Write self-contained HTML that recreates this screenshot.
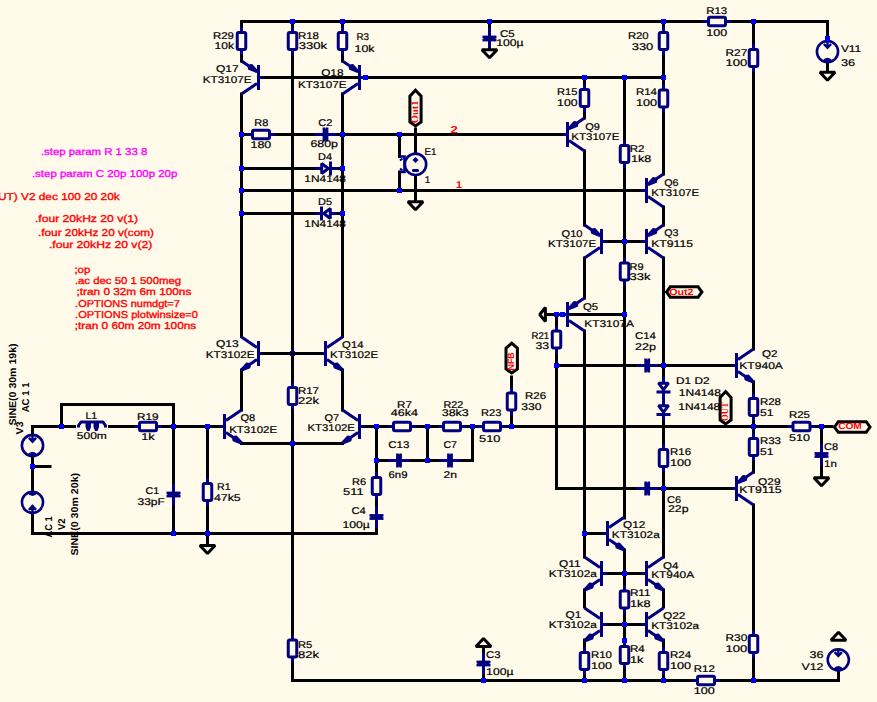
<!DOCTYPE html>
<html><head><meta charset="utf-8"><style>
html,body{margin:0;padding:0;background:#FFFAEA;}
svg{display:block;}
.w{fill:none;stroke:#000000;stroke-width:3;stroke-linecap:square;stroke-linejoin:miter;}
.n{fill:none;stroke:#000080;stroke-width:3;}
.nb{fill:#FFFAEA;stroke:#000080;stroke-width:3;}
.nb2{fill:none;stroke:#000080;stroke-width:3;}
.nd{fill:#FFFAEA;stroke:#000080;stroke-width:3;stroke-linejoin:bevel;}
.g{fill:#FFFAEA;stroke:#000000;stroke-width:3;stroke-linejoin:bevel;}
.c{fill:none;stroke:#000080;stroke-width:2.6;}
.hx{fill:#FFFAEA;stroke:#000000;stroke-width:3;stroke-linejoin:miter;}
text{font-family:"Liberation Sans",sans-serif;text-rendering:geometricPrecision;}
.t{font-size:9.8px;fill:#000;stroke:#000;stroke-width:0.2px;}
.dir{font-size:10px;fill:#FF0000;stroke:#FF0000;stroke-width:0.35px;}
.mag{font-size:10px;fill:#FF00FF;stroke:#FF00FF;stroke-width:0.35px;}
.nl{font-size:9px;font-weight:bold;fill:#FF0000;}
.nlv{font-family:"Liberation Serif",serif;font-size:10px;font-weight:bold;fill:#FF0000;}
.nl2{font-size:10px;font-weight:bold;fill:#FF0000;}
.tb{font-size:10px;font-weight:bold;fill:#000;}
</style></head><body>
<svg width="877" height="702" viewBox="0 0 877 702">
<rect width="877" height="702" fill="#FFFAEA"/>
<path d="M241.5,61 L241.5,21.5 L827.5,21.5 L827.5,40" class="w"/>
<path d="M292.5,21.5 L292.5,680.5 L838.5,680.5 L838.5,671" class="w"/>
<path d="M342.5,21.5 L342.5,61" class="w"/>
<path d="M241.5,94 L241.5,336.5" class="w"/>
<path d="M342.5,94 L342.5,336.5" class="w"/>
<path d="M260,77.5 L663.5,77.5" class="w"/>
<path d="M241.5,134.5 L567.5,134.5" class="w"/>
<path d="M241.5,168.5 L342.5,168.5" class="w"/>
<path d="M241.5,190.5 L646.5,190.5" class="w"/>
<path d="M241.5,213.5 L342.5,213.5" class="w"/>
<path d="M415.5,129 L415.5,153" class="w"/>
<path d="M415.5,176 L415.5,200.5" class="w"/>
<path d="M399.5,134.5 L399.5,156.5" class="w"/>
<path d="M399.5,172 L399.5,190.5" class="w"/>
<path d="M489.5,21.5 L489.5,49" class="w"/>
<path d="M584.5,77.5 L584.5,118" class="w"/>
<path d="M584.5,151 L584.5,225" class="w"/>
<path d="M624.5,77.5 L624.5,518" class="w"/>
<path d="M663.5,21.5 L663.5,174" class="w"/>
<path d="M663.5,207 L663.5,225" class="w"/>
<path d="M601.5,241.5 L646.5,241.5" class="w"/>
<path d="M663.5,258 L663.5,557" class="w"/>
<path d="M584.5,258 L584.5,298" class="w"/>
<path d="M546,314.5 L624.5,314.5" class="w"/>
<path d="M556.5,314.5 L556.5,488.5 L736.5,488.5" class="w"/>
<path d="M584.5,331 L584.5,557" class="w"/>
<path d="M556.5,365.5 L736.5,365.5" class="w"/>
<path d="M753.5,21.5 L753.5,349" class="w"/>
<path d="M753.5,382 L753.5,472" class="w"/>
<path d="M753.5,505 L753.5,680.5" class="w"/>
<path d="M32.5,434 L32.5,426.5 L224.5,426.5" class="w"/>
<path d="M359.5,426.5 L832,426.5" class="w"/>
<path d="M61.5,426.5 L61.5,404.5 L173.5,404.5 L173.5,533.5" class="w"/>
<path d="M32.5,457 L32.5,491" class="w"/>
<path d="M32.5,466.5 L50,466.5" class="w"/>
<path d="M32.5,514 L32.5,533.5 L376.5,533.5 L376.5,426.5" class="w"/>
<path d="M207.5,426.5 L207.5,545" class="w"/>
<path d="M241.5,370 L241.5,410" class="w"/>
<path d="M342.5,370 L342.5,410" class="w"/>
<path d="M241.5,443.5 L342.5,443.5" class="w"/>
<path d="M376.5,460.5 L472.5,460.5 L472.5,426.5" class="w"/>
<path d="M427.5,426.5 L427.5,460.5" class="w"/>
<path d="M511.5,426.5 L511.5,377" class="w"/>
<path d="M483.5,680.5 L483.5,648" class="w"/>
<path d="M584.5,533.5 L607.5,533.5" class="w"/>
<path d="M624.5,550 L624.5,680.5" class="w"/>
<path d="M601.5,573.5 L646.5,573.5" class="w"/>
<path d="M584.5,590 L584.5,607" class="w"/>
<path d="M663.5,590 L663.5,607" class="w"/>
<path d="M601.5,624.5 L646.5,624.5" class="w"/>
<path d="M584.5,640 L584.5,680.5" class="w"/>
<path d="M663.5,640 L663.5,680.5" class="w"/>
<path d="M821.5,426.5 L821.5,477" class="w"/>
<path d="M827.5,63 L827.5,72" class="w"/>
<path d="M241.5,27 V31 M241.5,51 V55" class="n"/>
<rect x="237.25" y="32.5" width="8.5" height="17" rx="1.5" class="nb"/>
<path d="M292.5,27 V31 M292.5,51 V55" class="n"/>
<rect x="288.25" y="32.5" width="8.5" height="17" rx="1.5" class="nb"/>
<path d="M342.5,27 V31 M342.5,51 V55" class="n"/>
<rect x="338.25" y="32.5" width="8.5" height="17" rx="1.5" class="nb"/>
<path d="M663.5,27 V31 M663.5,51 V55" class="n"/>
<rect x="659.25" y="32.5" width="8.5" height="17" rx="1.5" class="nb"/>
<path d="M663.5,84.5 V88.5 M663.5,108.5 V112.5" class="n"/>
<rect x="659.25" y="90.0" width="8.5" height="17" rx="1.5" class="nb"/>
<path d="M584.5,84 V88 M584.5,108 V112" class="n"/>
<rect x="580.25" y="89.5" width="8.5" height="17" rx="1.5" class="nb"/>
<path d="M753.5,44 V48 M753.5,68 V72" class="n"/>
<rect x="749.25" y="49.5" width="8.5" height="17" rx="1.5" class="nb"/>
<path d="M624.5,140 V144 M624.5,164 V168" class="n"/>
<rect x="620.25" y="145.5" width="8.5" height="17" rx="1.5" class="nb"/>
<path d="M624.5,257.5 V261.5 M624.5,281.5 V285.5" class="n"/>
<rect x="620.25" y="263.0" width="8.5" height="17" rx="1.5" class="nb"/>
<path d="M556.5,325.5 V329.5 M556.5,349.5 V353.5" class="n"/>
<rect x="552.25" y="331.0" width="8.5" height="17" rx="1.5" class="nb"/>
<path d="M292.5,382 V386 M292.5,406 V410" class="n"/>
<rect x="288.25" y="387.5" width="8.5" height="17" rx="1.5" class="nb"/>
<path d="M511.5,387.5 V391.5 M511.5,411.5 V415.5" class="n"/>
<rect x="507.25" y="393.0" width="8.5" height="17" rx="1.5" class="nb"/>
<path d="M753.5,393 V397 M753.5,417 V421" class="n"/>
<rect x="749.25" y="398.5" width="8.5" height="17" rx="1.5" class="nb"/>
<path d="M753.5,433 V437 M753.5,457 V461" class="n"/>
<rect x="749.25" y="438.5" width="8.5" height="17" rx="1.5" class="nb"/>
<path d="M663.5,444 V448 M663.5,468 V472" class="n"/>
<rect x="659.25" y="449.5" width="8.5" height="17" rx="1.5" class="nb"/>
<path d="M207.5,478 V482 M207.5,502 V506" class="n"/>
<rect x="203.25" y="483.5" width="8.5" height="17" rx="1.5" class="nb"/>
<path d="M376.5,472 V476 M376.5,496 V500" class="n"/>
<rect x="372.25" y="477.5" width="8.5" height="17" rx="1.5" class="nb"/>
<path d="M624.5,585.5 V589.5 M624.5,609.5 V613.5" class="n"/>
<rect x="620.25" y="591.0" width="8.5" height="17" rx="1.5" class="nb"/>
<path d="M624.5,641 V645 M624.5,665 V669" class="n"/>
<rect x="620.25" y="646.5" width="8.5" height="17" rx="1.5" class="nb"/>
<path d="M584.5,647 V651 M584.5,671 V675" class="n"/>
<rect x="580.25" y="652.5" width="8.5" height="17" rx="1.5" class="nb"/>
<path d="M663.5,647 V651 M663.5,671 V675" class="n"/>
<rect x="659.25" y="652.5" width="8.5" height="17" rx="1.5" class="nb"/>
<path d="M753.5,630 V634 M753.5,654 V658" class="n"/>
<rect x="749.25" y="635.5" width="8.5" height="17" rx="1.5" class="nb"/>
<path d="M292.5,634.5 V638.5 M292.5,658.5 V662.5" class="n"/>
<rect x="288.25" y="640.0" width="8.5" height="17" rx="1.5" class="nb"/>
<path d="M703,21.5 H707 M727,21.5 H731" class="n"/>
<rect x="708.5" y="17.25" width="17" height="8.5" rx="1.5" class="nb"/>
<path d="M247,134.5 H251 M271,134.5 H275" class="n"/>
<rect x="252.5" y="130.25" width="17" height="8.5" rx="1.5" class="nb"/>
<path d="M134,426.5 H138 M158,426.5 H162" class="n"/>
<rect x="139.5" y="422.25" width="17" height="8.5" rx="1.5" class="nb"/>
<path d="M388,426.5 H392 M412,426.5 H416" class="n"/>
<rect x="393.5" y="422.25" width="17" height="8.5" rx="1.5" class="nb"/>
<path d="M438,426.5 H442 M462,426.5 H466" class="n"/>
<rect x="443.5" y="422.25" width="17" height="8.5" rx="1.5" class="nb"/>
<path d="M478,426.5 H482 M502,426.5 H506" class="n"/>
<rect x="483.5" y="422.25" width="17" height="8.5" rx="1.5" class="nb"/>
<path d="M787.5,426.5 H791.5 M811.5,426.5 H815.5" class="n"/>
<rect x="793.0" y="422.25" width="17" height="8.5" rx="1.5" class="nb"/>
<path d="M692,680.5 H696 M716,680.5 H720" class="n"/>
<rect x="697.5" y="676.25" width="17" height="8.5" rx="1.5" class="nb"/>
<path d="M489.5,27.5 V49.5" class="n"/>
<rect x="482.5" y="35.6" width="14" height="2.6" fill="#000080"/>
<rect x="482.5" y="38.8" width="14" height="2.6" fill="#000080"/>
<rect x="483.5" y="37.5" width="12" height="2" fill="#000080"/>
<path d="M173.5,483.5 V505.5" class="n"/>
<rect x="166.5" y="491.6" width="14" height="2.6" fill="#000080"/>
<rect x="166.5" y="494.8" width="14" height="2.6" fill="#000080"/>
<rect x="167.5" y="493.5" width="12" height="2" fill="#000080"/>
<path d="M376.5,506 V528" class="n"/>
<rect x="369.5" y="514.1" width="14" height="2.6" fill="#000080"/>
<rect x="369.5" y="517.3" width="14" height="2.6" fill="#000080"/>
<rect x="370.5" y="516" width="12" height="2" fill="#000080"/>
<path d="M483.5,652.5 V674.5" class="n"/>
<rect x="476.5" y="660.6" width="14" height="2.6" fill="#000080"/>
<rect x="476.5" y="663.8" width="14" height="2.6" fill="#000080"/>
<rect x="477.5" y="662.5" width="12" height="2" fill="#000080"/>
<path d="M821.5,444 V466" class="n"/>
<rect x="814.5" y="452.1" width="14" height="2.6" fill="#000080"/>
<rect x="814.5" y="455.3" width="14" height="2.6" fill="#000080"/>
<rect x="815.5" y="454" width="12" height="2" fill="#000080"/>
<path d="M314.5,134.5 H336.5" class="n"/>
<rect x="322.6" y="127.5" width="2.6" height="14" fill="#000080"/>
<rect x="325.8" y="127.5" width="2.6" height="14" fill="#000080"/>
<rect x="324.5" y="128.5" width="2" height="12" fill="#000080"/>
<path d="M388,460.5 H410" class="n"/>
<rect x="396.1" y="453.5" width="2.6" height="14" fill="#000080"/>
<rect x="399.3" y="453.5" width="2.6" height="14" fill="#000080"/>
<rect x="398" y="454.5" width="2" height="12" fill="#000080"/>
<path d="M439,460.5 H461" class="n"/>
<rect x="447.1" y="453.5" width="2.6" height="14" fill="#000080"/>
<rect x="450.3" y="453.5" width="2.6" height="14" fill="#000080"/>
<rect x="449" y="454.5" width="2" height="12" fill="#000080"/>
<path d="M636.2,365.5 H658.2" class="n"/>
<rect x="644.3000000000001" y="358.5" width="2.6" height="14" fill="#000080"/>
<rect x="647.5" y="358.5" width="2.6" height="14" fill="#000080"/>
<rect x="646.2" y="359.5" width="2" height="12" fill="#000080"/>
<path d="M636.2,488.5 H658.2" class="n"/>
<rect x="644.3000000000001" y="481.5" width="2.6" height="14" fill="#000080"/>
<rect x="647.5" y="481.5" width="2.6" height="14" fill="#000080"/>
<rect x="646.2" y="482.5" width="2" height="12" fill="#000080"/>
<path d="M315,168.5 H337" class="n"/>
<path d="M321.7,163.5 V173.5 L328.2,168.5 Z" class="nd"/>
<path d="M330.5,161.5 V175.5" class="nb2"/>
<path d="M315,213.5 H337" class="n"/>
<path d="M330.3,208.5 V218.5 L323.8,213.5 Z" class="nd"/>
<path d="M321.5,206.5 V220.5" class="nb2"/>
<path d="M663.5,377 V420.5" class="n"/>
<path d="M658.5,383.2 H668.5 L663.5,389.7 Z" class="nd"/>
<path d="M656.5,392.0 H670.5" class="nb2"/>
<path d="M658.5,405.7 H668.5 L663.5,412.2 Z" class="nd"/>
<path d="M656.5,414.5 H670.5" class="nb2"/>
<path d="M481.9,49.7 H497.1 L489.5,57.7 Z" class="g"/>
<path d="M407.9,201.8 H423.1 L415.5,209.8 Z" class="g"/>
<path d="M199.9,545.5 H215.1 L207.5,553.5 Z" class="g"/>
<path d="M813.9,477.8 H829.1 L821.5,485.8 Z" class="g"/>
<path d="M819.9,72.3 H835.1 L827.5,80.3 Z" class="g"/>
<path d="M475.9,646.5 H491.1 L483.5,638.5 Z" class="g"/>
<path d="M830.9,640.2 H846.1 L838.5,632.2 Z" class="g"/>
<path d="M545.4,307.5 V321.5 L539.7,314.5 Z" class="g"/>
<path d="M258.5,65.0 V90.0" class="nb2"/>
<path d="M258.5,77.5 H263.5" class="n"/>
<path d="M241.5,61.0 L257.0,71.5 M257.0,83.5 L241.5,94.0" class="n"/>
<path d="M257.00,71.50 L248.84,68.39 L251.08,65.08 Z" fill="#000080" stroke="#000080" stroke-width="3" stroke-linejoin="bevel"/>
<path d="M359.5,65.0 V90.0" class="nb2"/>
<path d="M359.5,77.5 H364.5" class="n"/>
<path d="M342.5,61.0 L358.0,71.5 M358.0,83.5 L342.5,94.0" class="n"/>
<path d="M358.00,71.50 L349.84,68.39 L352.08,65.08 Z" fill="#000080" stroke="#000080" stroke-width="3" stroke-linejoin="bevel"/>
<path d="M567.5,122.0 V147.0" class="nb2"/>
<path d="M567.5,134.5 H562.5" class="n"/>
<path d="M584.5,118.0 L569.0,128.5 M569.0,140.5 L584.5,151.0" class="n"/>
<path d="M569.00,128.50 L574.92,122.08 L577.16,125.39 Z" fill="#000080" stroke="#000080" stroke-width="3" stroke-linejoin="bevel"/>
<path d="M646.5,178.0 V203.0" class="nb2"/>
<path d="M646.5,190.5 H641.5" class="n"/>
<path d="M663.5,174.0 L648.0,184.5 M648.0,196.5 L663.5,207.0" class="n"/>
<path d="M648.00,184.50 L653.92,178.08 L656.16,181.39 Z" fill="#000080" stroke="#000080" stroke-width="3" stroke-linejoin="bevel"/>
<path d="M601.5,229.0 V254.0" class="nb2"/>
<path d="M601.5,241.5 H606.5" class="n"/>
<path d="M584.5,225.0 L600.0,235.5 M600.0,247.5 L584.5,258.0" class="n"/>
<path d="M600.00,235.50 L591.84,232.39 L594.08,229.08 Z" fill="#000080" stroke="#000080" stroke-width="3" stroke-linejoin="bevel"/>
<path d="M646.5,229.0 V254.0" class="nb2"/>
<path d="M646.5,241.5 H641.5" class="n"/>
<path d="M663.5,225.0 L648.0,235.5 M648.0,247.5 L663.5,258.0" class="n"/>
<path d="M648.00,235.50 L653.92,229.08 L656.16,232.39 Z" fill="#000080" stroke="#000080" stroke-width="3" stroke-linejoin="bevel"/>
<path d="M567.5,302.0 V327.0" class="nb2"/>
<path d="M567.5,314.5 H562.5" class="n"/>
<path d="M584.5,298.0 L569.0,308.5 M569.0,320.5 L584.5,331.0" class="n"/>
<path d="M569.00,308.50 L574.92,302.08 L577.16,305.39 Z" fill="#000080" stroke="#000080" stroke-width="3" stroke-linejoin="bevel"/>
<path d="M258.5,341.0 V366.0" class="nb2"/>
<path d="M258.5,353.5 H263.5" class="n"/>
<path d="M241.5,337.0 L257.0,347.5 M257.0,359.5 L241.5,370.0" class="n"/>
<path d="M241.50,370.00 L247.42,363.58 L249.66,366.89 Z" fill="#000080" stroke="#000080" stroke-width="3" stroke-linejoin="bevel"/>
<path d="M325.5,341.0 V366.0" class="nb2"/>
<path d="M325.5,353.5 H320.5" class="n"/>
<path d="M342.5,337.0 L327.0,347.5 M327.0,359.5 L342.5,370.0" class="n"/>
<path d="M342.50,370.00 L334.34,366.89 L336.58,363.58 Z" fill="#000080" stroke="#000080" stroke-width="3" stroke-linejoin="bevel"/>
<path d="M224.5,414.0 V439.0" class="nb2"/>
<path d="M224.5,426.5 H219.5" class="n"/>
<path d="M241.5,410.0 L226.0,420.5 M226.0,432.5 L241.5,443.0" class="n"/>
<path d="M241.50,443.00 L233.34,439.89 L235.58,436.58 Z" fill="#000080" stroke="#000080" stroke-width="3" stroke-linejoin="bevel"/>
<path d="M359.5,414.0 V439.0" class="nb2"/>
<path d="M359.5,426.5 H364.5" class="n"/>
<path d="M342.5,410.0 L358.0,420.5 M358.0,432.5 L342.5,443.0" class="n"/>
<path d="M342.50,443.00 L348.42,436.58 L350.66,439.89 Z" fill="#000080" stroke="#000080" stroke-width="3" stroke-linejoin="bevel"/>
<path d="M736.5,353.0 V378.0" class="nb2"/>
<path d="M736.5,365.5 H731.5" class="n"/>
<path d="M753.5,349.0 L738.0,359.5 M738.0,371.5 L753.5,382.0" class="n"/>
<path d="M753.50,382.00 L745.34,378.89 L747.58,375.58 Z" fill="#000080" stroke="#000080" stroke-width="3" stroke-linejoin="bevel"/>
<path d="M736.5,476.0 V501.0" class="nb2"/>
<path d="M736.5,488.5 H731.5" class="n"/>
<path d="M753.5,472.0 L738.0,482.5 M738.0,494.5 L753.5,505.0" class="n"/>
<path d="M738.00,482.50 L743.92,476.08 L746.16,479.39 Z" fill="#000080" stroke="#000080" stroke-width="3" stroke-linejoin="bevel"/>
<path d="M607.5,521.0 V546.0" class="nb2"/>
<path d="M607.5,533.5 H602.5" class="n"/>
<path d="M624.5,517.0 L609.0,527.5 M609.0,539.5 L624.5,550.0" class="n"/>
<path d="M624.50,550.00 L616.34,546.89 L618.58,543.58 Z" fill="#000080" stroke="#000080" stroke-width="3" stroke-linejoin="bevel"/>
<path d="M601.5,561.0 V586.0" class="nb2"/>
<path d="M601.5,573.5 H606.5" class="n"/>
<path d="M584.5,557.0 L600.0,567.5 M600.0,579.5 L584.5,590.0" class="n"/>
<path d="M584.50,590.00 L590.42,583.58 L592.66,586.89 Z" fill="#000080" stroke="#000080" stroke-width="3" stroke-linejoin="bevel"/>
<path d="M646.5,561.0 V586.0" class="nb2"/>
<path d="M646.5,573.5 H641.5" class="n"/>
<path d="M663.5,557.0 L648.0,567.5 M648.0,579.5 L663.5,590.0" class="n"/>
<path d="M663.50,590.00 L655.34,586.89 L657.58,583.58 Z" fill="#000080" stroke="#000080" stroke-width="3" stroke-linejoin="bevel"/>
<path d="M601.5,612.0 V637.0" class="nb2"/>
<path d="M601.5,624.5 H606.5" class="n"/>
<path d="M584.5,608.0 L600.0,618.5 M600.0,630.5 L584.5,641.0" class="n"/>
<path d="M584.50,641.00 L590.42,634.58 L592.66,637.89 Z" fill="#000080" stroke="#000080" stroke-width="3" stroke-linejoin="bevel"/>
<path d="M646.5,612.0 V637.0" class="nb2"/>
<path d="M646.5,624.5 H641.5" class="n"/>
<path d="M663.5,608.0 L648.0,618.5 M648.0,630.5 L663.5,641.0" class="n"/>
<path d="M663.50,641.00 L655.34,637.89 L657.58,634.58 Z" fill="#000080" stroke="#000080" stroke-width="3" stroke-linejoin="bevel"/>
<rect x="76" y="424" width="32" height="5" fill="#FFFAEA"/>
<path d="M78.5,427.5 L78.5,425.5 L81,422 H103 L105.5,425.5 V427.5" fill="none" stroke="#000080" stroke-width="3" stroke-linejoin="round"/>
<path d="M85.5,421 H91 V427 L89.5,431 H87 L85.5,427 Z M93.5,421 H99 V427 L97.5,431 H95 L93.5,427 Z" fill="#000080"/>
<circle cx="32.5" cy="445.5" r="10.6" class="c"/>
<path d="M32.5,435.5 V441.5 M28.9,437.9 L32.5,441.7 L36.1,437.9" fill="none" stroke="#000080" stroke-width="2.4"/>
<path d="M28.0,455.0 Q32.5,450.0 37.0,455.0 Z" fill="#000080" stroke="#000080" stroke-width="1.5"/>
<circle cx="32.5" cy="502.3" r="10.6" class="c"/>
<path d="M32.5,512.3 V506.3 M28.9,509.90000000000003 L32.5,506.1 L36.1,509.90000000000003" fill="none" stroke="#000080" stroke-width="2.4"/>
<path d="M28.0,492.8 Q32.5,497.8 37.0,492.8 Z" fill="#000080" stroke="#000080" stroke-width="1.5"/>
<circle cx="827.5" cy="51.6" r="10.6" class="c"/>
<path d="M827.5,41.6 V47.6 M823.9,44.0 L827.5,47.800000000000004 L831.1,44.0" fill="none" stroke="#000080" stroke-width="2.4"/>
<path d="M823.0,61.1 Q827.5,56.1 832.0,61.1 Z" fill="#000080" stroke="#000080" stroke-width="1.5"/>
<circle cx="838.3" cy="659.8" r="10.6" class="c"/>
<path d="M838.3,649.8 V655.8 M834.6999999999999,652.1999999999999 L838.3,656.0 L841.9,652.1999999999999" fill="none" stroke="#000080" stroke-width="2.4"/>
<path d="M833.8,669.3 Q838.3,664.3 842.8,669.3 Z" fill="#000080" stroke="#000080" stroke-width="1.5"/>
<circle cx="415.5" cy="164.3" r="10.7" class="c"/>
<path d="M399.5,156.5 H404.5 V172 H399.5" fill="none" stroke="#000080" stroke-width="2.6"/>
<path d="M415.5,157 l3,3 l-3,3 l-3,-3 Z" fill="#000080"/>
<rect x="412" y="169" width="7" height="3" rx="1.2" fill="#000080"/>
<path d="M400,160.5 l2.5,-2 M400,168.5 l2.5,2" stroke="#000080" stroke-width="2"/>
<path d="M415.5,90.2 L421.1,96.2 V122 L415.5,126 L409.9,122 V96.2 Z" class="hx"/>
<path d="M511.7,343.2 L517.4,348.2 V369 L511.7,373 L506.0,369 V348.2 Z" class="hx"/>
<path d="M725.6,391.6 L731.1,397.6 V420 L725.6,424 L720.1,420 V397.6 Z" class="hx"/>
<path d="M666.5,292 L670.3,286.75 H698.1 L701.9,292 L698.1,297.25 H670.3 Z" class="hx"/>
<path d="M834.5,427 L838.3,421.7 H866.2 L870,427 L866.2,432.3 H838.3 Z" class="hx"/>
<rect x="290.0" y="19.0" width="5" height="5" fill="#0000FF"/>
<rect x="340.0" y="19.0" width="5" height="5" fill="#0000FF"/>
<rect x="487.0" y="19.0" width="5" height="5" fill="#0000FF"/>
<rect x="661.0" y="19.0" width="5" height="5" fill="#0000FF"/>
<rect x="751.0" y="19.0" width="5" height="5" fill="#0000FF"/>
<rect x="825.0" y="36.0" width="5" height="5" fill="#0000FF"/>
<rect x="363.0" y="75.0" width="5" height="5" fill="#0000FF"/>
<rect x="582.0" y="75.0" width="5" height="5" fill="#0000FF"/>
<rect x="622.0" y="75.0" width="5" height="5" fill="#0000FF"/>
<rect x="661.0" y="75.0" width="5" height="5" fill="#0000FF"/>
<rect x="239.0" y="132.0" width="5" height="5" fill="#0000FF"/>
<rect x="340.0" y="132.0" width="5" height="5" fill="#0000FF"/>
<rect x="397.0" y="132.0" width="5" height="5" fill="#0000FF"/>
<rect x="239.0" y="166.0" width="5" height="5" fill="#0000FF"/>
<rect x="340.0" y="166.0" width="5" height="5" fill="#0000FF"/>
<rect x="239.0" y="188.0" width="5" height="5" fill="#0000FF"/>
<rect x="397.0" y="188.0" width="5" height="5" fill="#0000FF"/>
<rect x="239.0" y="211.0" width="5" height="5" fill="#0000FF"/>
<rect x="340.0" y="211.0" width="5" height="5" fill="#0000FF"/>
<rect x="622.0" y="239.0" width="5" height="5" fill="#0000FF"/>
<rect x="554.0" y="312.0" width="5" height="5" fill="#0000FF"/>
<rect x="560.0" y="312.0" width="5" height="5" fill="#0000FF"/>
<rect x="622.0" y="312.0" width="5" height="5" fill="#0000FF"/>
<rect x="290.0" y="351.0" width="5" height="5" fill="#0000FF"/>
<rect x="554.0" y="363.0" width="5" height="5" fill="#0000FF"/>
<rect x="661.0" y="363.0" width="5" height="5" fill="#0000FF"/>
<rect x="59.0" y="424.0" width="5" height="5" fill="#0000FF"/>
<rect x="171.0" y="424.0" width="5" height="5" fill="#0000FF"/>
<rect x="205.0" y="424.0" width="5" height="5" fill="#0000FF"/>
<rect x="374.0" y="424.0" width="5" height="5" fill="#0000FF"/>
<rect x="425.0" y="424.0" width="5" height="5" fill="#0000FF"/>
<rect x="470.0" y="424.0" width="5" height="5" fill="#0000FF"/>
<rect x="509.0" y="424.0" width="5" height="5" fill="#0000FF"/>
<rect x="751.0" y="424.0" width="5" height="5" fill="#0000FF"/>
<rect x="819.0" y="424.0" width="5" height="5" fill="#0000FF"/>
<rect x="290.0" y="441.0" width="5" height="5" fill="#0000FF"/>
<rect x="374.0" y="458.0" width="5" height="5" fill="#0000FF"/>
<rect x="425.0" y="458.0" width="5" height="5" fill="#0000FF"/>
<rect x="30.0" y="464.0" width="5" height="5" fill="#0000FF"/>
<rect x="661.0" y="486.0" width="5" height="5" fill="#0000FF"/>
<rect x="171.0" y="531.0" width="5" height="5" fill="#0000FF"/>
<rect x="205.0" y="531.0" width="5" height="5" fill="#0000FF"/>
<rect x="582.0" y="531.0" width="5" height="5" fill="#0000FF"/>
<rect x="622.0" y="571.0" width="5" height="5" fill="#0000FF"/>
<rect x="622.0" y="622.0" width="5" height="5" fill="#0000FF"/>
<rect x="622.0" y="638.0" width="5" height="5" fill="#0000FF"/>
<rect x="481.0" y="678.0" width="5" height="5" fill="#0000FF"/>
<rect x="582.0" y="678.0" width="5" height="5" fill="#0000FF"/>
<rect x="622.0" y="678.0" width="5" height="5" fill="#0000FF"/>
<rect x="661.0" y="678.0" width="5" height="5" fill="#0000FF"/>
<rect x="751.0" y="678.0" width="5" height="5" fill="#0000FF"/>
<path d="M263.5,353.5 L320.5,353.5" class="w"/>
<text x="212.9" y="39.0" class="t" textLength="21.0" lengthAdjust="spacingAndGlyphs">R29</text>
<text x="214.5" y="49.0" class="t" textLength="19.4" lengthAdjust="spacingAndGlyphs">10k</text>
<text x="297.9" y="39.1" class="t" textLength="21.1" lengthAdjust="spacingAndGlyphs">R18</text>
<text x="298.8" y="49.1" class="t" textLength="28.3" lengthAdjust="spacingAndGlyphs">330k</text>
<text x="356.5" y="39.7" class="t" textLength="12.6" lengthAdjust="spacingAndGlyphs">R3</text>
<text x="354.5" y="51.6" class="t" textLength="20.0" lengthAdjust="spacingAndGlyphs">10k</text>
<text x="215.9" y="72.4" class="t" textLength="22.8" lengthAdjust="spacingAndGlyphs">Q17</text>
<text x="202.8" y="83.1" class="t" textLength="48.7" lengthAdjust="spacingAndGlyphs">KT3107E</text>
<text x="321.2" y="76.1" class="t" textLength="22.3" lengthAdjust="spacingAndGlyphs">Q18</text>
<text x="297.9" y="87.9" class="t" textLength="48.6" lengthAdjust="spacingAndGlyphs">KT3107E</text>
<text x="254.3" y="125.8" class="t" textLength="14.0" lengthAdjust="spacingAndGlyphs">R8</text>
<text x="250.5" y="148.1" class="t" textLength="20.8" lengthAdjust="spacingAndGlyphs">180</text>
<text x="318.2" y="126.3" class="t" textLength="14.1" lengthAdjust="spacingAndGlyphs">C2</text>
<text x="310.5" y="146.6" class="t" textLength="27.5" lengthAdjust="spacingAndGlyphs">680p</text>
<text x="318.0" y="160.0" class="t" textLength="14.0" lengthAdjust="spacingAndGlyphs">D4</text>
<text x="304.3" y="182.2" class="t" textLength="41.7" lengthAdjust="spacingAndGlyphs">1N4148</text>
<text x="318.0" y="205.0" class="t" textLength="14.0" lengthAdjust="spacingAndGlyphs">D5</text>
<text x="304.3" y="227.2" class="t" textLength="41.7" lengthAdjust="spacingAndGlyphs">1N4148</text>
<text x="499.9" y="36.7" class="t" textLength="14.8" lengthAdjust="spacingAndGlyphs">C5</text>
<text x="496.2" y="46.1" class="t" textLength="27.3" lengthAdjust="spacingAndGlyphs">100µ</text>
<text x="424.4" y="155.1" class="t" textLength="11.9" lengthAdjust="spacingAndGlyphs">E1</text>
<text x="424.7" y="183.0" class="t" textLength="5.5" lengthAdjust="spacingAndGlyphs">1</text>
<text x="450.5" y="132.5" class="nl2" textLength="7.3" lengthAdjust="spacingAndGlyphs">2</text>
<text x="456.0" y="188.4" class="nl2" textLength="6.0" lengthAdjust="spacingAndGlyphs">1</text>
<text x="557.1" y="94.9" class="t" textLength="20.4" lengthAdjust="spacingAndGlyphs">R15</text>
<text x="557.1" y="105.7" class="t" textLength="20.4" lengthAdjust="spacingAndGlyphs">100</text>
<text x="585.3" y="129.6" class="t" textLength="14.7" lengthAdjust="spacingAndGlyphs">Q9</text>
<text x="571.3" y="140.1" class="t" textLength="48.1" lengthAdjust="spacingAndGlyphs">KT3107E</text>
<text x="627.9" y="39.2" class="t" textLength="20.8" lengthAdjust="spacingAndGlyphs">R20</text>
<text x="631.7" y="49.8" class="t" textLength="21.6" lengthAdjust="spacingAndGlyphs">330</text>
<text x="706.2" y="14.1" class="t" textLength="21.0" lengthAdjust="spacingAndGlyphs">R13</text>
<text x="706.2" y="36.0" class="t" textLength="21.0" lengthAdjust="spacingAndGlyphs">100</text>
<text x="725.5" y="56.1" class="t" textLength="21.8" lengthAdjust="spacingAndGlyphs">R27</text>
<text x="725.5" y="66.1" class="t" textLength="21.8" lengthAdjust="spacingAndGlyphs">100</text>
<text x="840.9" y="51.5" class="t" textLength="20.4" lengthAdjust="spacingAndGlyphs">V11</text>
<text x="840.9" y="66.4" class="t" textLength="14.2" lengthAdjust="spacingAndGlyphs">36</text>
<text x="635.9" y="94.9" class="t" textLength="21.1" lengthAdjust="spacingAndGlyphs">R14</text>
<text x="635.9" y="105.7" class="t" textLength="21.1" lengthAdjust="spacingAndGlyphs">100</text>
<text x="629.7" y="152.1" class="t" textLength="14.8" lengthAdjust="spacingAndGlyphs">R2</text>
<text x="630.9" y="162.2" class="t" textLength="20.3" lengthAdjust="spacingAndGlyphs">1k8</text>
<text x="664.2" y="185.9" class="t" textLength="14.3" lengthAdjust="spacingAndGlyphs">Q6</text>
<text x="651.2" y="196.0" class="t" textLength="47.9" lengthAdjust="spacingAndGlyphs">KT3107E</text>
<text x="561.5" y="236.6" class="t" textLength="21.0" lengthAdjust="spacingAndGlyphs">Q10</text>
<text x="548.1" y="247.2" class="t" textLength="48.1" lengthAdjust="spacingAndGlyphs">KT3107E</text>
<text x="664.2" y="236.1" class="t" textLength="14.3" lengthAdjust="spacingAndGlyphs">Q3</text>
<text x="651.2" y="246.9" class="t" textLength="41.9" lengthAdjust="spacingAndGlyphs">KT9115</text>
<text x="629.5" y="270.0" class="t" textLength="14.0" lengthAdjust="spacingAndGlyphs">R9</text>
<text x="629.5" y="280.0" class="t" textLength="21.0" lengthAdjust="spacingAndGlyphs">33k</text>
<text x="582.9" y="309.6" class="t" textLength="15.3" lengthAdjust="spacingAndGlyphs">Q5</text>
<text x="584.2" y="327.2" class="t" textLength="49.7" lengthAdjust="spacingAndGlyphs">KT3107A</text>
<text x="531.5" y="339.2" class="t" textLength="17.6" lengthAdjust="spacingAndGlyphs">R21</text>
<text x="535.5" y="348.6" class="t" textLength="13.6" lengthAdjust="spacingAndGlyphs">33</text>
<text x="634.9" y="339.2" class="t" textLength="21.0" lengthAdjust="spacingAndGlyphs">C14</text>
<text x="634.9" y="350.4" class="t" textLength="21.0" lengthAdjust="spacingAndGlyphs">22p</text>
<text x="215.9" y="347.3" class="t" textLength="22.8" lengthAdjust="spacingAndGlyphs">Q13</text>
<text x="205.8" y="358.1" class="t" textLength="48.7" lengthAdjust="spacingAndGlyphs">KT3102E</text>
<text x="342.1" y="347.6" class="t" textLength="21.4" lengthAdjust="spacingAndGlyphs">Q14</text>
<text x="330.0" y="358.1" class="t" textLength="48.2" lengthAdjust="spacingAndGlyphs">KT3102E</text>
<text x="761.9" y="357.3" class="t" textLength="15.6" lengthAdjust="spacingAndGlyphs">Q2</text>
<text x="739.3" y="368.6" class="t" textLength="43.6" lengthAdjust="spacingAndGlyphs">KT940A</text>
<text x="676.0" y="383.8" class="t" textLength="33.5" lengthAdjust="spacingAndGlyphs">D1 D2</text>
<text x="678.8" y="395.5" class="t" textLength="42.1" lengthAdjust="spacingAndGlyphs">1N4148</text>
<text x="678.3" y="409.8" class="t" textLength="42.0" lengthAdjust="spacingAndGlyphs">1N4148</text>
<text x="297.9" y="393.6" class="t" textLength="21.1" lengthAdjust="spacingAndGlyphs">R17</text>
<text x="297.9" y="403.6" class="t" textLength="21.1" lengthAdjust="spacingAndGlyphs">22k</text>
<text x="525.0" y="398.6" class="t" textLength="21.1" lengthAdjust="spacingAndGlyphs">R26</text>
<text x="521.2" y="410.0" class="t" textLength="20.3" lengthAdjust="spacingAndGlyphs">330</text>
<text x="759.9" y="405.0" class="t" textLength="21.0" lengthAdjust="spacingAndGlyphs">R28</text>
<text x="759.9" y="415.6" class="t" textLength="13.6" lengthAdjust="spacingAndGlyphs">51</text>
<text x="397.1" y="407.5" class="t" textLength="14.8" lengthAdjust="spacingAndGlyphs">R7</text>
<text x="390.8" y="416.3" class="t" textLength="27.3" lengthAdjust="spacingAndGlyphs">46k4</text>
<text x="443.5" y="407.5" class="t" textLength="19.8" lengthAdjust="spacingAndGlyphs">R22</text>
<text x="441.7" y="416.3" class="t" textLength="27.1" lengthAdjust="spacingAndGlyphs">38k3</text>
<text x="481.1" y="416.3" class="t" textLength="20.4" lengthAdjust="spacingAndGlyphs">R23</text>
<text x="479.1" y="441.8" class="t" textLength="21.4" lengthAdjust="spacingAndGlyphs">510</text>
<text x="240.5" y="421.3" class="t" textLength="14.8" lengthAdjust="spacingAndGlyphs">Q8</text>
<text x="229.2" y="432.6" class="t" textLength="47.9" lengthAdjust="spacingAndGlyphs">KT3102E</text>
<text x="324.5" y="421.3" class="t" textLength="14.6" lengthAdjust="spacingAndGlyphs">Q7</text>
<text x="307.5" y="431.3" class="t" textLength="47.4" lengthAdjust="spacingAndGlyphs">KT3102E</text>
<text x="85.4" y="418.9" class="t" textLength="11.9" lengthAdjust="spacingAndGlyphs">L1</text>
<text x="76.8" y="439.1" class="t" textLength="30.1" lengthAdjust="spacingAndGlyphs">500m</text>
<text x="137.0" y="420.0" class="t" textLength="21.5" lengthAdjust="spacingAndGlyphs">R19</text>
<text x="141.2" y="440.1" class="t" textLength="13.6" lengthAdjust="spacingAndGlyphs">1k</text>
<text x="789.0" y="417.6" class="t" textLength="21.0" lengthAdjust="spacingAndGlyphs">R25</text>
<text x="789.0" y="440.8" class="t" textLength="21.0" lengthAdjust="spacingAndGlyphs">510</text>
<text x="759.9" y="443.9" class="t" textLength="21.0" lengthAdjust="spacingAndGlyphs">R33</text>
<text x="759.9" y="455.1" class="t" textLength="13.6" lengthAdjust="spacingAndGlyphs">51</text>
<text x="388.3" y="447.6" class="t" textLength="21.1" lengthAdjust="spacingAndGlyphs">C13</text>
<text x="388.5" y="477.6" class="t" textLength="19.0" lengthAdjust="spacingAndGlyphs">6n9</text>
<text x="443.5" y="447.6" class="t" textLength="13.5" lengthAdjust="spacingAndGlyphs">C7</text>
<text x="443.5" y="477.6" class="t" textLength="13.5" lengthAdjust="spacingAndGlyphs">2n</text>
<text x="824.1" y="450.1" class="t" textLength="14.0" lengthAdjust="spacingAndGlyphs">C8</text>
<text x="824.1" y="467.2" class="t" textLength="12.8" lengthAdjust="spacingAndGlyphs">1n</text>
<text x="670.0" y="455.2" class="t" textLength="21.1" lengthAdjust="spacingAndGlyphs">R16</text>
<text x="670.0" y="465.9" class="t" textLength="21.1" lengthAdjust="spacingAndGlyphs">100</text>
<text x="352.1" y="484.6" class="t" textLength="14.1" lengthAdjust="spacingAndGlyphs">R6</text>
<text x="343.1" y="494.8" class="t" textLength="20.5" lengthAdjust="spacingAndGlyphs">511</text>
<text x="758.1" y="484.6" class="t" textLength="22.4" lengthAdjust="spacingAndGlyphs">Q29</text>
<text x="739.3" y="492.8" class="t" textLength="42.4" lengthAdjust="spacingAndGlyphs">KT9115</text>
<text x="217.1" y="489.6" class="t" textLength="13.6" lengthAdjust="spacingAndGlyphs">R1</text>
<text x="213.9" y="501.1" class="t" textLength="26.8" lengthAdjust="spacingAndGlyphs">47k5</text>
<text x="145.5" y="494.3" class="t" textLength="13.6" lengthAdjust="spacingAndGlyphs">C1</text>
<text x="137.5" y="505.3" class="t" textLength="27.3" lengthAdjust="spacingAndGlyphs">33pF</text>
<text x="667.0" y="502.8" class="t" textLength="14.0" lengthAdjust="spacingAndGlyphs">C6</text>
<text x="668.0" y="511.6" class="t" textLength="20.5" lengthAdjust="spacingAndGlyphs">22p</text>
<text x="351.4" y="514.4" class="t" textLength="14.3" lengthAdjust="spacingAndGlyphs">C4</text>
<text x="342.5" y="528.1" class="t" textLength="27.4" lengthAdjust="spacingAndGlyphs">100µ</text>
<text x="623.1" y="527.9" class="t" textLength="22.3" lengthAdjust="spacingAndGlyphs">Q12</text>
<text x="611.8" y="537.9" class="t" textLength="47.9" lengthAdjust="spacingAndGlyphs">KT3102a</text>
<text x="559.1" y="567.2" class="t" textLength="21.6" lengthAdjust="spacingAndGlyphs">Q11</text>
<text x="548.8" y="577.2" class="t" textLength="48.0" lengthAdjust="spacingAndGlyphs">KT3102a</text>
<text x="663.0" y="568.8" class="t" textLength="15.5" lengthAdjust="spacingAndGlyphs">Q4</text>
<text x="651.2" y="578.1" class="t" textLength="42.9" lengthAdjust="spacingAndGlyphs">KT940A</text>
<text x="629.9" y="596.4" class="t" textLength="20.6" lengthAdjust="spacingAndGlyphs">R11</text>
<text x="629.9" y="607.2" class="t" textLength="20.6" lengthAdjust="spacingAndGlyphs">1k8</text>
<text x="565.5" y="618.1" class="t" textLength="15.7" lengthAdjust="spacingAndGlyphs">Q1</text>
<text x="548.8" y="627.9" class="t" textLength="48.0" lengthAdjust="spacingAndGlyphs">KT3102a</text>
<text x="663.0" y="618.6" class="t" textLength="22.5" lengthAdjust="spacingAndGlyphs">Q22</text>
<text x="651.2" y="628.6" class="t" textLength="47.9" lengthAdjust="spacingAndGlyphs">KT3102a</text>
<text x="725.5" y="641.2" class="t" textLength="21.8" lengthAdjust="spacingAndGlyphs">R30</text>
<text x="725.5" y="652.0" class="t" textLength="21.8" lengthAdjust="spacingAndGlyphs">100</text>
<text x="297.9" y="647.5" class="t" textLength="14.3" lengthAdjust="spacingAndGlyphs">R5</text>
<text x="297.9" y="657.6" class="t" textLength="21.1" lengthAdjust="spacingAndGlyphs">82k</text>
<text x="629.9" y="652.0" class="t" textLength="14.8" lengthAdjust="spacingAndGlyphs">R4</text>
<text x="629.9" y="663.0" class="t" textLength="13.6" lengthAdjust="spacingAndGlyphs">1k</text>
<text x="591.0" y="657.6" class="t" textLength="21.0" lengthAdjust="spacingAndGlyphs">R10</text>
<text x="591.0" y="668.8" class="t" textLength="21.0" lengthAdjust="spacingAndGlyphs">100</text>
<text x="670.0" y="657.6" class="t" textLength="21.1" lengthAdjust="spacingAndGlyphs">R24</text>
<text x="670.0" y="668.8" class="t" textLength="21.1" lengthAdjust="spacingAndGlyphs">100</text>
<text x="486.1" y="658.3" class="t" textLength="14.4" lengthAdjust="spacingAndGlyphs">C3</text>
<text x="486.1" y="674.6" class="t" textLength="27.4" lengthAdjust="spacingAndGlyphs">100µ</text>
<text x="809.5" y="657.6" class="t" textLength="14.0" lengthAdjust="spacingAndGlyphs">36</text>
<text x="801.5" y="669.6" class="t" textLength="22.0" lengthAdjust="spacingAndGlyphs">V12</text>
<text x="693.8" y="672.1" class="t" textLength="21.1" lengthAdjust="spacingAndGlyphs">R12</text>
<text x="693.8" y="693.9" class="t" textLength="21.1" lengthAdjust="spacingAndGlyphs">100</text>
<text x="40.9" y="155.1" class="mag" textLength="106.4" lengthAdjust="spacingAndGlyphs">.step param R 1 33 8</text>
<text x="31.9" y="177.0" class="mag" textLength="145.5" lengthAdjust="spacingAndGlyphs">.step param C 20p 100p 20p</text>
<text x="-2.0" y="199.6" class="dir" textLength="121.7" lengthAdjust="spacingAndGlyphs">UT) V2 dec 100 20 20k</text>
<text x="35.0" y="221.6" class="dir" textLength="103.0" lengthAdjust="spacingAndGlyphs">.four 20kHz 20 v(1)</text>
<text x="38.0" y="235.6" class="dir" textLength="116.0" lengthAdjust="spacingAndGlyphs">.four 20kHz 20 v(com)</text>
<text x="48.9" y="247.5" class="dir" textLength="103.4" lengthAdjust="spacingAndGlyphs">.four 20kHz 20 v(2)</text>
<text x="74.4" y="273.2" class="dir" textLength="15.9" lengthAdjust="spacingAndGlyphs">;op</text>
<text x="74.9" y="283.9" class="dir" textLength="106.2" lengthAdjust="spacingAndGlyphs">.ac dec 50 1 500meg</text>
<text x="76.5" y="294.8" class="dir" textLength="114.8" lengthAdjust="spacingAndGlyphs">;tran 0 32m 6m 100ns</text>
<text x="75.1" y="306.7" class="dir" textLength="104.8" lengthAdjust="spacingAndGlyphs">.OPTIONS numdgt=7</text>
<text x="75.1" y="317.8" class="dir" textLength="122.9" lengthAdjust="spacingAndGlyphs">.OPTIONS plotwinsize=0</text>
<text x="74.7" y="328.9" class="dir" textLength="121.5" lengthAdjust="spacingAndGlyphs">;tran 0 60m 20m 100ns</text>
<text transform="translate(16.4,425.6) rotate(-90)" x="0" y="0" class="tb" textLength="82.2" lengthAdjust="spacingAndGlyphs">SINE(0 30m 19k)</text>
<text transform="translate(29.2,412.3) rotate(-90)" x="0" y="0" class="tb" textLength="29.8" lengthAdjust="spacingAndGlyphs">AC 1 1</text>
<text transform="translate(23.1,434.4) rotate(-90)" x="0" y="0" class="tb" textLength="12.9" lengthAdjust="spacingAndGlyphs">V3</text>
<text transform="translate(52.2,537.5) rotate(-90)" x="0" y="0" class="tb" textLength="21.1" lengthAdjust="spacingAndGlyphs">AC 1</text>
<text transform="translate(65,530.1) rotate(-90)" x="0" y="0" class="tb" textLength="11.7" lengthAdjust="spacingAndGlyphs">V2</text>
<text transform="translate(77.5,555.6) rotate(-90)" x="0" y="0" class="tb" textLength="82.7" lengthAdjust="spacingAndGlyphs">SINE(0 30m 20k)</text>
<text transform="translate(418.4,123.2) rotate(-90)" x="0" y="0" class="nlv" textLength="22.7" lengthAdjust="spacingAndGlyphs">Out1</text>
<text transform="translate(514,370.4) rotate(-90)" x="0" y="0" class="nl" textLength="18.1" lengthAdjust="spacingAndGlyphs">NFB</text>
<text transform="translate(728.2,420.9) rotate(-90)" x="0" y="0" class="nlv" textLength="18.6" lengthAdjust="spacingAndGlyphs">OUT</text>
<text x="669.2" y="294.7" class="nl" textLength="24.3" lengthAdjust="spacingAndGlyphs">Out2</text>
<text x="838.2" y="429.4" class="nl" textLength="23.6" lengthAdjust="spacingAndGlyphs">COM</text>
</svg>
</body></html>
